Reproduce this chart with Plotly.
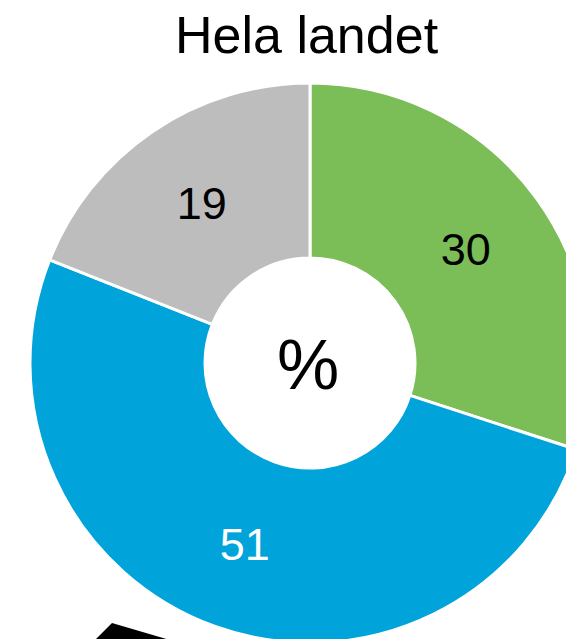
import plotly.graph_objects as go

# Data
labels = ["Grön", "Blå", "Grå"]
values = [30, 51, 19]
colors = ["#7BBD56", "#00A3DA", "#BDBDBD"]
text_colors = ["#000000", "#FFFFFF", "#000000"]
title_text = "Hela landet"
center_text = "%"

W, H = 600, 660

def px(x):
    return x / W

def py(y):
    return 1 - y / H

fig = go.Figure()
fig.add_trace(go.Pie(
    labels=labels,
    values=values,
    sort=False,
    direction="clockwise",
    rotation=0,
    hole=0.375,
    marker=dict(colors=colors, line=dict(color="white", width=3)),
    textinfo="value",
    textposition="inside",
    insidetextorientation="horizontal",
    textfont=dict(family="Liberation Sans, Arial, sans-serif", size=45, color=text_colors),
    domain=dict(x=[px(30), px(590)], y=[py(643), py(83)]),
    showlegend=False,
    hoverinfo="label+value",
))

fig.add_annotation(
    text=title_text, xref="paper", yref="paper", x=px(307), y=py(35),
    xanchor="center", yanchor="middle", showarrow=False,
    font=dict(family="Liberation Sans, Arial, sans-serif", size=52, color="black"),
)
fig.add_annotation(
    text=center_text, xref="paper", yref="paper", x=px(308), y=py(365),
    xanchor="center", yanchor="middle", showarrow=False,
    font=dict(family="Liberation Sans, Arial, sans-serif", size=70, color="black"),
)

# partial black shape at bottom-left
pts = [(112, 623), (180, 643), (92, 643)]
path = "M " + " L ".join(f"{px(x)},{py(y)}" for x, y in pts) + " Z"
fig.add_shape(type="path", path=path, xref="paper", yref="paper",
              fillcolor="black", line=dict(width=0))

fig.update_layout(
    width=W, height=H,
    margin=dict(l=0, r=0, t=0, b=0),
    paper_bgcolor="white", plot_bgcolor="white",
)

fig.write_html(
    "out.html",
    config={"displayModeBar": False},
    post_script="document.body.style.margin='0';document.body.style.overflow='hidden';document.documentElement.style.overflow='hidden';",
)
